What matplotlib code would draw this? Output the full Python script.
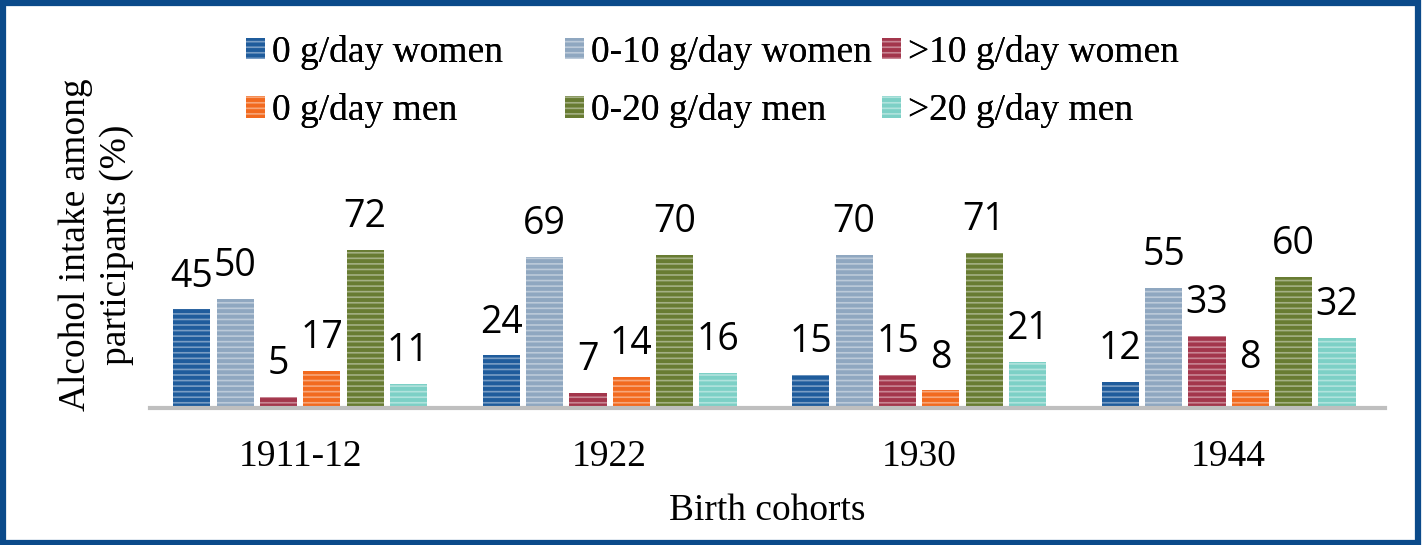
import numpy as np
import matplotlib.pyplot as plt
from matplotlib.patches import Rectangle
from matplotlib.colors import to_rgb

cohorts = ["1911-12", "1922", "1930", "1944"]
series_names = ["0 g/day women", "0-10 g/day women", ">10 g/day women",
                "0 g/day men", "0-20 g/day men", ">20 g/day men"]
women_0 = [45, 24, 15, 12]
women_0_10 = [50, 69, 70, 55]
women_10 = [5, 7, 15, 33]
men_0 = [17, 14, 8, 8]
men_0_20 = [72, 70, 71, 60]
men_20 = [11, 16, 21, 32]
colors = ["#1F5C9C", "#8FA7C0", "#A3364C", "#F26A1F", "#687C32", "#7DD0C6"]

series = [women_0, women_0_10, women_10, men_0, men_0_20, men_20]

plt.rcParams['hatch.linewidth'] = 1.2
serif = "Liberation Serif"

fig = plt.figure(figsize=(14.24, 5.45), dpi=100)
ax = fig.add_axes([150 / 1424, 1 - 408 / 545, 1235 / 1424, 219 / 545])

x = np.arange(len(cohorts))
width = 0.12
step = 0.14
handles = []
for i, (vals, c) in enumerate(zip(series, colors)):
    light = tuple(0.6 * np.array(to_rgb(c)) + 0.4)
    pos = x + (i - 2.5) * step
    b = ax.bar(pos, vals, width, color=c, edgecolor=light, linewidth=0,
               hatch='---', label=series_names[i])
    handles.append(b)
    for px, v in zip(pos, vals):
        ax.annotate(str(v), (px, v), xytext=(0, 10), textcoords='offset points',
                    ha='center', va='bottom', fontsize=27, family='Open Sans')

ax.set_xlim(-0.485, 3.505)
ax.set_ylim(0, 100)
ax.set_xticks(x, cohorts, fontsize=27, family=serif)
ax.tick_params(axis='x', length=0, pad=23)
ax.set_yticks([])
for s in ['top', 'right', 'left']:
    ax.spines[s].set_visible(False)
ax.spines['bottom'].set_color('#BFBFBF')
ax.spines['bottom'].set_linewidth(3)
ax.set_xlabel("Birth cohorts", fontsize=27, family=serif, labelpad=14)

fig.text(96 / 1424, 1 - 245 / 545, "Alcohol intake among\nparticipants (%)",
         rotation=90, ha='center', va='center', fontsize=27, family=serif,
         linespacing=1.25)

# one legend per column (women row on top, men row below)
col_x = [246, 565, 882]
for k in range(3):
    lg = fig.legend([handles[k], handles[k + 3]], [series_names[k], series_names[k + 3]],
                    loc='upper left', bbox_to_anchor=(col_x[k] / 1424, 1 - 35 / 545),
                    frameon=False, prop={'family': serif, 'size': 27},
                    handlelength=0.5, handleheight=0.5, handletextpad=0.2,
                    labelspacing=0.62, borderaxespad=0, borderpad=0)
    fig.add_artist(lg)

fig.patches.append(Rectangle((0.002, 0.004), 0.994, 0.99, transform=fig.transFigure,
                             fill=False, edgecolor='#0B4A8A', linewidth=4.5))

fig.savefig("out.png", dpi=100)
